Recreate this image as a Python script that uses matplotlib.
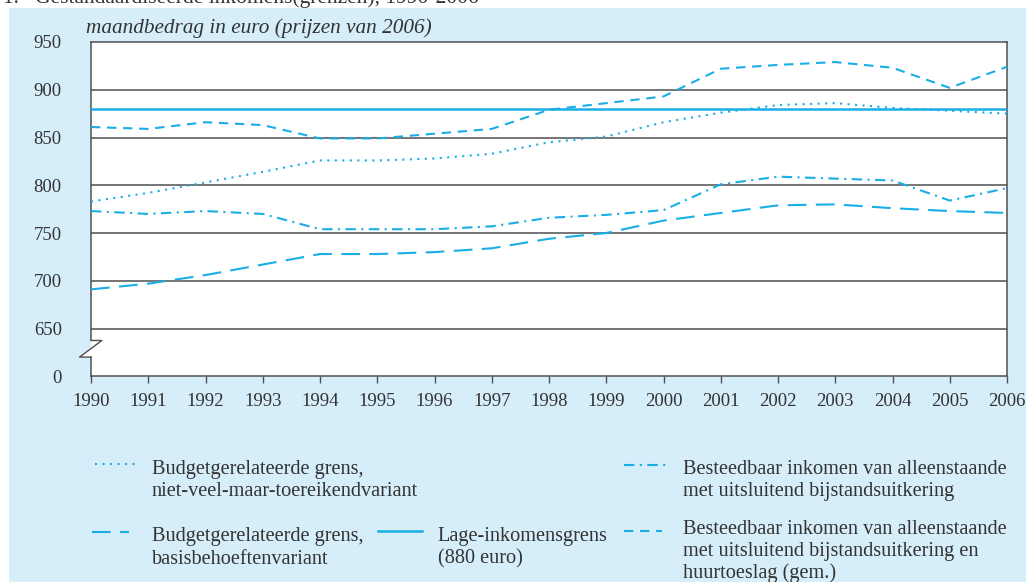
import numpy as np
import matplotlib
matplotlib.use("Agg")
import matplotlib.pyplot as plt
from matplotlib.lines import Line2D
from matplotlib.patches import Rectangle, Polygon

# data
# ------------------------------------------------------------------------------------------------------------------
years = np.arange(1990, 2007)
niet_veel = [783, 792, 803, 814, 826, 826, 828, 833, 845, 851, 866, 876, 884, 886, 881, 878, 875]
basis = [691, 697, 706, 717, 728, 728, 730, 734, 744, 750, 763, 771, 779, 780, 776, 773, 771]
bijstand = [773, 770, 773, 770, 754, 754, 754, 757, 766, 769, 774, 801, 809, 807, 805, 784, 797]
huurtoeslag = [861, 859, 866, 863, 849, 849, 854, 859, 879, 886, 893, 922, 926, 929, 923, 902, 924]
lage_grens = 880

ytick_vals = [600, 650, 700, 750, 800, 850, 900, 950]
ytick_labels = ['0', '650', '700', '750', '800', '850', '900', '950']

legend_labels = [
    'Budgetgerelateerde grens,\nniet-veel-maar-toereikendvariant',
    'Budgetgerelateerde grens,\nbasisbehoeftenvariant',
    'Lage-inkomensgrens\n(880 euro)',
    'Besteedbaar inkomen van alleenstaande\nmet uitsluitend bijstandsuitkering',
    'Besteedbaar inkomen van alleenstaande\nmet uitsluitend bijstandsuitkering en\nhuurtoeslag (gem.)',
]

# style
# ------------------------------------------------------------------------------------------------------------------
W, H = 1026, 582
blue = '#1aaee6'
bg = '#d6edfa'
txt = '#333333'
grid = '#505050'
plt.rcParams['font.family'] = ['Liberation Serif', 'DejaVu Serif']

def fx(x):
    return x / W

def fy(y):
    return 1 - y / H

fig = plt.figure(figsize=(W / 100, H / 100), dpi=100)
fig.patch.set_facecolor('white')
fig.add_artist(Rectangle((fx(9), 0), 1 - fx(9), fy(7.5), transform=fig.transFigure,
                         facecolor=bg, edgecolor='none', zorder=0))
fig.text(fx(3), fy(2.5), '1.   Gestandaardiseerde inkomens(grenzen), 1990-2006',
         fontsize=15.5, color=txt, va='baseline', ha='left')

ax = fig.add_axes([fx(91), fy(376.3), fx(1007) - fx(91), fy(42) - fy(376.3)])
ax.set_facecolor('white')
ax.set_xlim(1990, 2006)
ax.set_ylim(600, 950)

styles = {
    'dot': (0, (1, 2.6)),
    'long': (0, (9, 4.5)),
    'dashdot': (0, (5, 2.6, 1, 2.6)),
    'short': (0, (4.5, 3.2)),
}

for v in ytick_vals[1:-1]:
    ax.axhline(v, color=grid, lw=1.1, zorder=1)

ax.axhline(lage_grens, color=blue, lw=1.8, zorder=3)
ax.plot(years, niet_veel, color=blue, lw=1.5, linestyle=styles['dot'], zorder=3)
ax.plot(years, basis, color=blue, lw=1.5, linestyle=styles['long'], zorder=3)
ax.plot(years, bijstand, color=blue, lw=1.5, linestyle=styles['dashdot'], zorder=3)
ax.plot(years, huurtoeslag, color=blue, lw=1.5, linestyle=styles['short'], zorder=3)

for s in ax.spines.values():
    s.set_color(grid)
    s.set_linewidth(1.1)
ax.spines['left'].set_bounds(637.5, 950)
ax.plot([1990, 1990], [600, 620.1], color=grid, lw=1.1, clip_on=False, zorder=5)
# break mark
ax.add_patch(Polygon([(1990, 620.1), (1989.80, 620.1), (1990, 629.0)], closed=True,
                     facecolor='white', edgecolor='none', clip_on=False, zorder=4))
ax.plot([1990, 1990.19, 1989.80, 1990], [637.5, 637.5, 620.1, 620.1],
        color=grid, lw=1.0, clip_on=False, zorder=5)

ax.set_xticks(years)
ax.set_xticklabels([str(y) for y in years])
ax.set_yticks(ytick_vals)
ax.set_yticklabels(ytick_labels)
ax.tick_params(axis='x', direction='out', length=5, width=1, color=grid, pad=7,
               labelsize=13.5, labelcolor=txt)
ax.tick_params(axis='y', length=0, pad=21, labelsize=13.5, labelcolor=txt)

fig.text(fx(86), fy(33.5), 'maandbedrag in euro (prijzen van 2006)', fontsize=15.3,
         style='italic', color=txt, va='baseline', ha='left')

# legend
# ------------------------------------------------------------------------------------------------------------------
entries = [
    (95, 140, 464, styles['dot'], 151.5, 474),
    (92, 129, 532, styles['long'], 151.5, 541.5),
    (378, 422, 531, '-', 437.5, 541.5),
    (624, 668, 465, styles['dashdot'], 683, 474.3),
    (624, 662, 531, styles['short'], 683, 534.3),
]
for (x0, x1, yl, ls, tx, ty), label in zip(entries, legend_labels):
    fig.add_artist(Line2D([fx(x0), fx(x1)], [fy(yl), fy(yl)], transform=fig.transFigure,
                          color=blue, lw=1.5 if ls != '-' else 1.8, linestyle=ls))
    for i, line in enumerate(label.split('\n')):
        fig.text(fx(tx), fy(ty + 22 * i), line, fontsize=14.6, color=txt,
                 va='baseline', ha='left')

fig.savefig('out.png', dpi=100)
